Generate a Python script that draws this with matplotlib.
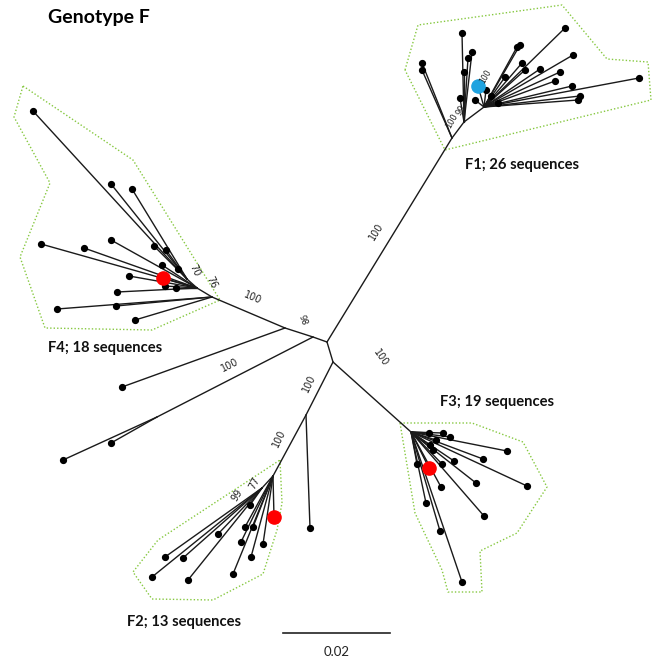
import matplotlib
matplotlib.use("Agg")
import matplotlib.pyplot as plt

# ---------------- data (layout coordinates of the unrooted tree, image pixels) -------------
# internal nodes
node_names = ["C1", "C2", "C3", "N98", "NL", "F1a", "F1b", "F1c",
              "F4a", "F4b", "F4c", "F3a", "F2a", "F2b", "F2c"]
node_x = [327, 333, 313, 285, 157, 452, 464, 484, 212, 197, 187, 411, 306, 273, 262]
node_y = [342, 362, 337, 328, 417, 138, 122, 107, 297, 288, 279, 432, 415, 476, 488]
node_parent = [None, "C1", "C1", "C3", "C3", "C1", "F1a", "F1b",
               "N98", "F4a", "F4b", "C2", "C2", "F2a", "F2b"]

# tips: F1 cluster
f1_x = [422, 422, 462, 472, 468, 464, 460, 565, 517, 520, 522, 525, 540, 573, 560, 555,
        505, 572, 580, 578, 639, 486, 491, 475, 498]
f1_y = [63, 70, 33, 52, 58, 72, 98, 28, 47, 45, 63, 70, 69, 55, 72, 81,
        77, 86, 96, 100, 78, 90, 96, 100, 103]
f1_parent = ["F1a", "F1a", "F1b", "F1b", "F1b", "F1b", "F1b"] + ["F1c"] * 18

# F4 cluster
f4_x = [33, 111, 132, 41, 84, 111, 154, 166, 162, 178, 129, 165, 176, 117, 57, 116, 135]
f4_y = [111, 184, 189, 244, 248, 240, 246, 250, 265, 269, 276, 286, 288, 292, 309, 306, 320]
f4_parent = ["F4c", "F4c", "F4c", "F4b", "F4b", "F4b", "F4c", "F4c", "F4b", "F4c",
             "F4b", "F4b", "F4b", "F4b", "F4a", "F4a", "F4a"]

# F3 cluster
f3_x = [443, 450, 429, 507, 483, 527, 454, 442, 476, 441, 484, 426, 440, 417, 462, 433, 436, 430]
f3_y = [433, 437, 433, 451, 459, 486, 461, 464, 483, 487, 516, 503, 531, 464, 582, 450, 440, 445]
f3_parent = ["F3a"] * 18

# F2 cluster
f2_x = [310, 263, 253, 251, 245, 241, 233, 250, 165, 183, 152, 188, 218]
f2_y = [528, 544, 527, 557, 527, 542, 574, 505, 557, 558, 577, 580, 534]
f2_parent = ["F2a", "F2b", "F2b", "F2b", "F2b", "F2b", "F2b",
             "F2c", "F2c", "F2c", "F2c", "F2c", "F2c"]

# other long branches
ol_x = [122, 111, 63]
ol_y = [387, 443, 460]
ol_parent = ["N98", "NL", "NL"]

# highlighted sequences
hl_x = [478, 163, 429, 274]
hl_y = [86, 278, 468, 517]
hl_parent = ["F1c", "F4b", "F3a", "F2b"]
hl_color = ["#1fa3e0", "#ff0000", "#ff0000", "#ff0000"]

# bootstrap values
bs_text = ["100", "100", "98", "100", "100", "100", "100", "77", "99", "70", "76",
           "100", "99", "100"]
bs_x = [376, 253, 303, 230, 309, 381, 279, 254, 237, 195, 212, 452, 461, 486]
bs_y = [232, 298, 320, 365, 383, 358, 438, 483, 495, 270, 282, 121, 110, 76]
bs_rot = [58, -23, -70, 27, 65, -55, 65, 62, 58, -65, -65, 60, 60, 60]
bs_size = [7, 7, 6, 7, 7, 7, 7, 7, 7, 7, 7, 6, 6, 5.5]

# cluster hulls
hull_f1_x = [405, 418, 562, 607, 648, 651, 445, 405]
hull_f1_y = [70, 25, 5, 59, 62, 100, 150, 70]
hull_f4_x = [23, 133, 220, 152, 45, 20, 50, 14, 23]
hull_f4_y = [86, 160, 300, 330, 328, 257, 183, 117, 86]
hull_f3_x = [400, 472, 523, 547, 517, 480, 482, 448, 442, 415, 400]
hull_f3_y = [423, 423, 442, 487, 533, 551, 592, 592, 570, 513, 423]
hull_f2_x = [280, 282, 277, 263, 213, 152, 133, 158, 280]
hull_f2_y = [460, 503, 530, 574, 600, 599, 572, 540, 460]

cluster_labels = ["F1; 26 sequences", "F4; 18 sequences", "F3; 19 sequences", "F2; 13 sequences"]
cluster_lx = [465, 48, 440, 127]
cluster_ly = [165, 348, 402, 622]

scale_value = 0.02
px_per_unit = 5350.0
scale_x0, scale_y0 = 283, 633

# ---------------- drawing ----------------
fig = plt.figure(figsize=(6.6, 6.61), dpi=100)
ax = fig.add_axes([0, 0, 1, 1])
ax.set_xlim(0, 660)
ax.set_ylim(661, 0)
ax.axis("off")

pos = {n: (x, y) for n, x, y in zip(node_names, node_x, node_y)}
line_kw = dict(color="#1a1a1a", lw=1.0, solid_capstyle="round", zorder=2)

for n, p in zip(node_names, node_parent):
    if p is not None:
        ax.plot([pos[p][0], pos[n][0]], [pos[p][1], pos[n][1]], **line_kw)

hull_kw = dict(color="#86c840", lw=1.0, ls=(0, (1, 1.5)), zorder=1)
for hx, hy in [(hull_f1_x, hull_f1_y), (hull_f4_x, hull_f4_y),
               (hull_f3_x, hull_f3_y), (hull_f2_x, hull_f2_y)]:
    ax.plot(hx, hy, **hull_kw)

for xs, ys, ps in [(f1_x, f1_y, f1_parent), (f4_x, f4_y, f4_parent), (f3_x, f3_y, f3_parent),
                   (f2_x, f2_y, f2_parent), (ol_x, ol_y, ol_parent)]:
    for x, y, p in zip(xs, ys, ps):
        ax.plot([pos[p][0], x], [pos[p][1], y], **line_kw)
    ax.plot(xs, ys, "o", color="black", ms=4.2, zorder=3)

for x, y, p, c in zip(hl_x, hl_y, hl_parent, hl_color):
    ax.plot([pos[p][0], x], [pos[p][1], y], **line_kw)
    ax.plot([x], [y], "o", color=c, ms=9.5, zorder=4)

for t, x, y, r, s in zip(bs_text, bs_x, bs_y, bs_rot, bs_size):
    ax.text(x, y, t, fontsize=s, rotation=r, ha="center", va="center",
            color="#222222", family="DejaVu Sans", zorder=5)

for t, x, y in zip(cluster_labels, cluster_lx, cluster_ly):
    ax.text(x, y, t, fontsize=10.6, fontweight="bold", ha="left", va="center",
            family="Lato", color="#111111")

ax.text(48, 18, "Genotype F", fontsize=14, fontweight="bold", ha="left", va="center",
        family="Lato", color="black")

sb_len = scale_value * px_per_unit
ax.plot([scale_x0, scale_x0 + sb_len], [scale_y0, scale_y0], color="#222222", lw=1.2)
ax.text(scale_x0 + sb_len / 2, 652, f"{scale_value}", fontsize=9.5, ha="center", va="center",
        family="Lato", color="#222222")

fig.savefig("out.png", dpi=100)
